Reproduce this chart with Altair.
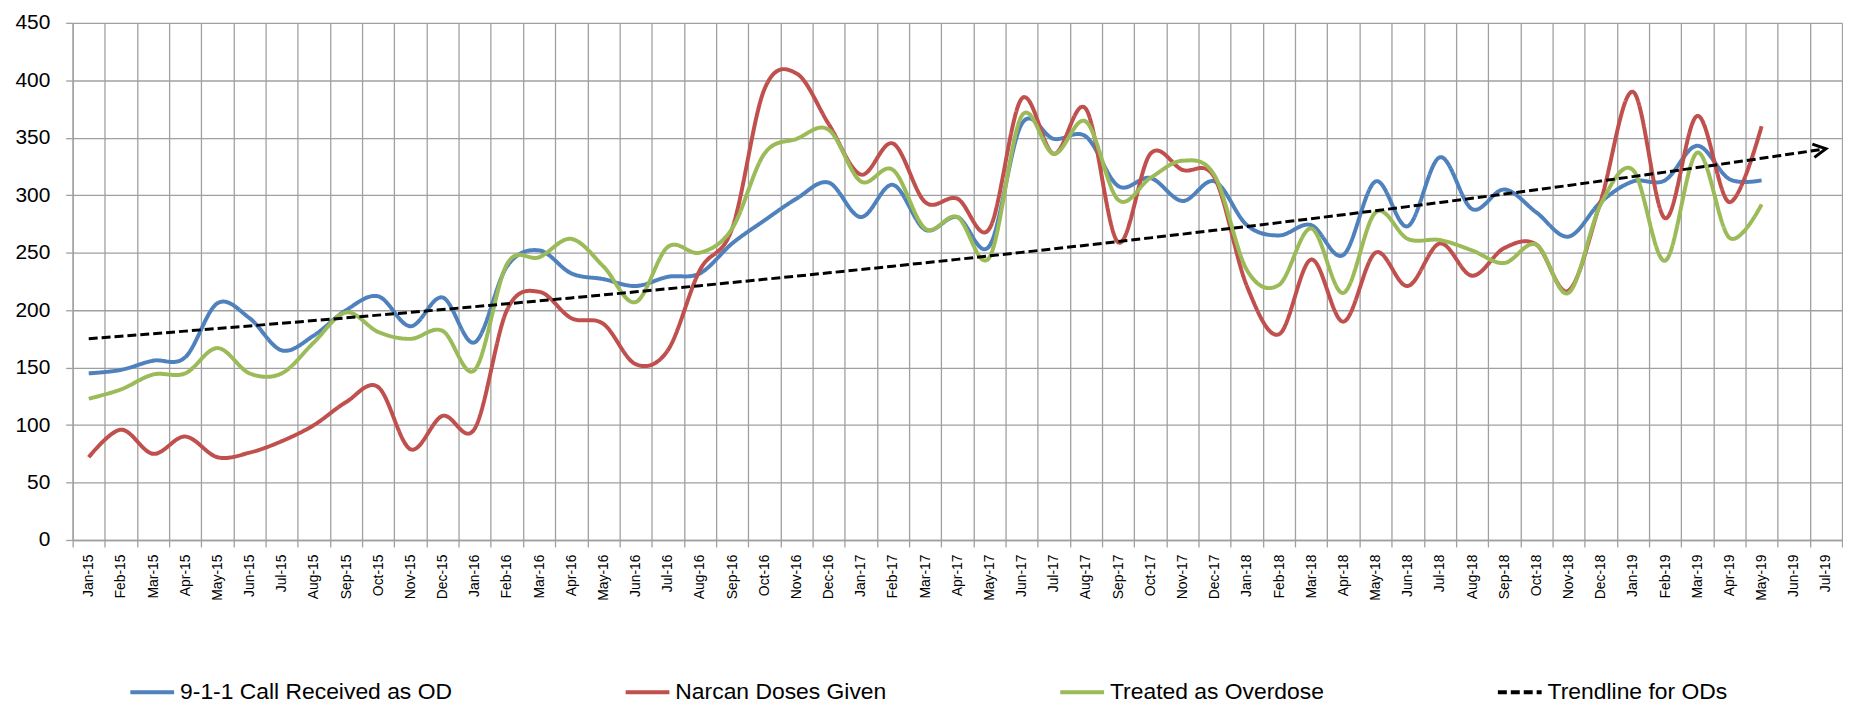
import altair as alt
import pandas as pd

months = [
    "Jan-15", "Feb-15", "Mar-15", "Apr-15", "May-15", "Jun-15", "Jul-15", "Aug-15", "Sep-15", "Oct-15", "Nov-15", "Dec-15",
    "Jan-16", "Feb-16", "Mar-16", "Apr-16", "May-16", "Jun-16", "Jul-16", "Aug-16", "Sep-16", "Oct-16", "Nov-16", "Dec-16",
    "Jan-17", "Feb-17", "Mar-17", "Apr-17", "May-17", "Jun-17", "Jul-17", "Aug-17", "Sep-17", "Oct-17", "Nov-17", "Dec-17",
    "Jan-18", "Feb-18", "Mar-18", "Apr-18", "May-18", "Jun-18", "Jul-18", "Aug-18", "Sep-18", "Oct-18", "Nov-18", "Dec-18",
    "Jan-19", "Feb-19", "Mar-19", "Apr-19", "May-19", "Jun-19", "Jul-19",
]

series_names = ["9-1-1 Call Received as OD", "Narcan Doses Given", "Treated as Overdose", "Trendline for ODs"]
series_colors = ["#4F81BD", "#C0504D", "#9BBB59", "#000000"]

calls_911 = [145, 148, 156, 159, 206, 193, 165, 178, 200, 212, 186, 211,
             172, 238, 252, 232, 227, 221, 229, 232, 258, 278, 297, 311,
             281, 309, 270, 281, 256, 362, 349, 351, 308, 315, 295, 312,
             274, 265, 274, 248, 312, 273, 333, 288, 305, 285, 264, 294,
             312, 313, 343, 314, 313]
narcan = [72, 96, 75, 90, 72, 76, 86, 100, 120, 133, 79, 108,
          97, 200, 216, 193, 188, 153, 165, 235, 271, 392, 406, 362,
          318, 345, 294, 297, 271, 384, 336, 375, 259, 336, 322, 315,
          221, 179, 244, 190, 250, 221, 258, 230, 254, 257, 217, 295,
          390, 280, 369, 294, 360]
treated = [123, 131, 144, 145, 167, 145, 145, 172, 198, 181, 175, 182,
           148, 240, 246, 262, 238, 207, 255, 250, 271, 336, 349, 357,
           312, 322, 271, 281, 246, 369, 336, 364, 296, 315, 330, 317,
           235, 222, 271, 215, 285, 262, 261, 252, 241, 257, 215, 292,
           322, 243, 337, 263, 292]

y_ticks = [0, 50, 100, 150, 200, 250, 300, 350, 400, 450]

rows = []
for name, vals in zip(series_names[:3], [calls_911, narcan, treated]):
    for i, v in enumerate(vals):
        rows.append({"month": months[i], "idx": i, "series": name, "value": v})
df = pd.DataFrame(rows)

# Trendline source: the "Treated as Overdose" series over every month on the axis
# (months without data are left empty, so the fitted curve is forecast onto them).
trend_rows = []
for i, m in enumerate(months):
    trend_rows.append({"month": m, "idx": i, "value": treated[i] if i < len(treated) else None})
trend_df = pd.DataFrame(trend_rows)

FONT = "Liberation Sans"

color_scale = alt.Scale(domain=series_names, range=series_colors)
dash_scale = alt.Scale(domain=series_names, range=[[1, 0], [1, 0], [1, 0], [9, 4]])
legend = alt.Legend(
    title=None, orient="none", legendX=56, legendY=649, direction="horizontal",
    columns=4, columnPadding=166, symbolType="stroke", symbolSize=1936,
    symbolStrokeWidth=4, labelFontSize=23, labelFont=FONT, labelLimit=600,
    labelOffset=4, padding=0, labelColor="#000000",
)

x_enc = alt.X(
    "month:N", sort=months,
    scale=alt.Scale(type="band", domain=months, paddingInner=0, paddingOuter=0),
    axis=alt.Axis(title=None, labelAngle=270, labelFontSize=14, tickSize=7,
                  labelPadding=7, grid=True, tickBand="extent"),
)
y_enc = alt.Y(
    "value:Q",
    scale=alt.Scale(domain=[0, 450], nice=False, zero=True),
    axis=alt.Axis(values=y_ticks, title=None, labelFontSize=21, tickSize=7,
                  labelPadding=16, grid=True),
)

lines = alt.Chart(df).mark_line(interpolate="cardinal", strokeWidth=4, strokeJoin="round").encode(
    x=x_enc,
    y=y_enc,
    color=alt.Color("series:N", scale=color_scale, legend=legend),
    strokeDash=alt.StrokeDash("series:N", scale=dash_scale, legend=legend),
    detail="series:N",
)

# Exponential trendline, fitted like a spreadsheet trendline: least squares of ln(value) on month index
trend_base = alt.Chart(trend_df).transform_calculate(
    ly="isValid(datum.value) ? log(datum.value) : null",
    xv="isValid(datum.value) ? datum.idx : null",
).transform_joinaggregate(
    mx="mean(xv)", mly="mean(ly)",
).transform_calculate(
    sxy_t="isValid(datum.value) ? (datum.xv - datum.mx) * (datum.ly - datum.mly) : null",
    sxx_t="isValid(datum.value) ? (datum.xv - datum.mx) * (datum.xv - datum.mx) : null",
).transform_joinaggregate(
    sxy="sum(sxy_t)", sxx="sum(sxx_t)",
).transform_calculate(
    trend="exp(datum.mly + datum.sxy / datum.sxx * (datum.idx - datum.mx))",
    series="'Trendline for ODs'",
)

trend = trend_base.mark_line(strokeWidth=3).encode(
    x=x_enc,
    y=alt.Y("trend:Q"),
    color=alt.Color("series:N", scale=color_scale, legend=legend),
    strokeDash=alt.StrokeDash("series:N", scale=dash_scale, legend=legend),
)

arrow = trend_base.transform_filter(
    alt.datum.idx == len(months) - 1
).mark_point(
    shape="M-1.9,-1L0,0L-1.9,1", size=180, filled=False, color="#000000",
    strokeWidth=3, angle=351, opacity=1, strokeJoin="miter",
).encode(x=x_enc, y=alt.Y("trend:Q"))

chart = alt.layer(lines, trend, arrow).properties(
    width=1779, height=520,
    padding={"left": 6, "top": 2, "right": 0, "bottom": 0},
).configure_axis(
    domainColor="#A0A0A0", gridColor="#A0A0A0", tickColor="#A0A0A0",
    domainWidth=1.3, gridWidth=1.3, tickWidth=1.3,
    labelColor="#000000", labelFont=FONT,
).configure_view(stroke=None)

chart.save("out.html", embed_options={"renderer": "svg", "actions": False})
